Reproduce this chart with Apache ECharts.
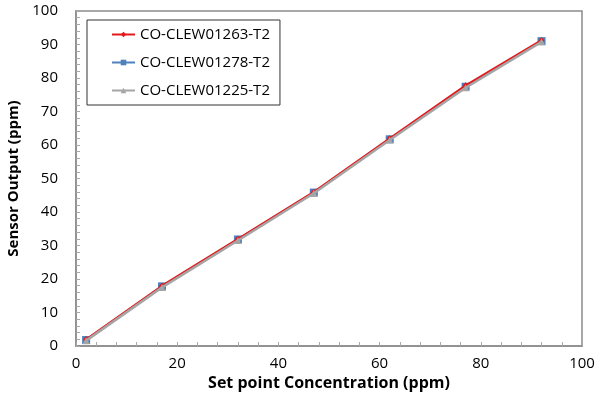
<!DOCTYPE html>
<html><head><meta charset="utf-8">
<script src="https://cdn.jsdelivr.net/npm/echarts@6/dist/echarts.min.js"></script>
<style>html,body{margin:0;padding:0;background:#fff}#c{width:597px;height:396px}</style>
</head><body><div id="c"></div>
<script>
const setPoints = [2, 17, 32, 47, 62, 77, 92];
const seriesNames = ['CO-CLEW01263-T2', 'CO-CLEW01278-T2', 'CO-CLEW01225-T2'];
const s1263 = [2.0, 18.0, 32.0, 46.0, 62.0, 77.8, 91.3];
const s1278 = [1.8, 17.8, 31.8, 45.8, 61.7, 77.4, 91.0];
const s1225 = [1.6, 17.5, 31.5, 45.6, 61.5, 77.1, 90.8];
const xTicks = [0, 20, 40, 60, 80, 100];
const yTicks = [0, 10, 20, 30, 40, 50, 60, 70, 80, 90, 100];

const font = '"Open Sans", "Liberation Sans", sans-serif';
const pair = arr => setPoints.map((x, i) => [x, arr[i]]);
const near = (list, v) => list.some(t => Math.abs(t - v) < 1e-6);
const chart = echarts.init(document.getElementById('c'));
chart.setOption({
  animation: false,
  grid: {left: 76, right: 15, top: 11, bottom: 50, outerBoundsMode: 'none', containLabel: false,
         show: true, borderColor: '#8c8c8c', borderWidth: 1.5},
  legend: {
    left: 87, top: 20, width: 206, orient: 'vertical',
    itemGap: 13, padding: [7, 10, 7, 24],
    borderColor: '#333', borderWidth: 1, backgroundColor: '#fff',
    itemWidth: 23, itemHeight: 7,
    textStyle: {fontFamily: font, fontSize: 15, color: '#000', lineHeight: 15},
    data: seriesNames
  },
  xAxis: {
    type: 'value', min: 0, max: 100, interval: 4,
    axisLine: {lineStyle: {color: '#8c8c8c', width: 1.5}},
    axisTick: {show: true, inside: true, length: 4, lineStyle: {color: '#a8a8a8'}},
    splitLine: {show: false},
    axisLabel: {fontFamily: font, fontSize: 15, color: '#000', margin: 10, formatter: v => near(xTicks, v) ? String(Math.round(v)) : ''},
    name: 'Set point Concentration (ppm)', nameLocation: 'middle', nameGap: 24,
    nameTextStyle: {fontFamily: font, fontSize: 16, fontWeight: 'bold', color: '#000'}
  },
  yAxis: {
    type: 'value', min: 0, max: 100, interval: 2,
    axisLine: {lineStyle: {color: '#8c8c8c', width: 1.5}},
    axisTick: {show: true, inside: true, length: 4, lineStyle: {color: '#a8a8a8'}},
    splitLine: {show: false},
    axisLabel: {fontFamily: font, fontSize: 15, color: '#000', margin: 18, formatter: v => near(yTicks, v) ? String(Math.round(v)) : ''},
    name: 'Sensor Output (ppm)', nameLocation: 'middle', nameGap: 47, nameRotate: 90,
    nameTextStyle: {fontFamily: font, fontSize: 15, fontWeight: 'bold', color: '#000'}
  },
  series: [
    {name: seriesNames[0], type: 'line', data: pair(s1263), symbol: 'diamond', symbolSize: 6,
     itemStyle: {color: '#e31a1c'}, lineStyle: {color: '#e31a1c', width: 2}, z: 3},
    {name: seriesNames[1], type: 'line', data: pair(s1278), symbol: 'rect', symbolSize: 8,
     itemStyle: {color: '#4f81bd'}, lineStyle: {color: '#4f81bd', width: 2}, z: 2},
    {name: seriesNames[2], type: 'line', data: pair(s1225), symbol: 'triangle', symbolSize: 7,
     itemStyle: {color: '#a5a5a5'}, lineStyle: {color: '#a5a5a5', width: 2.5}, z: 4}
  ]
});
</script></body></html>
